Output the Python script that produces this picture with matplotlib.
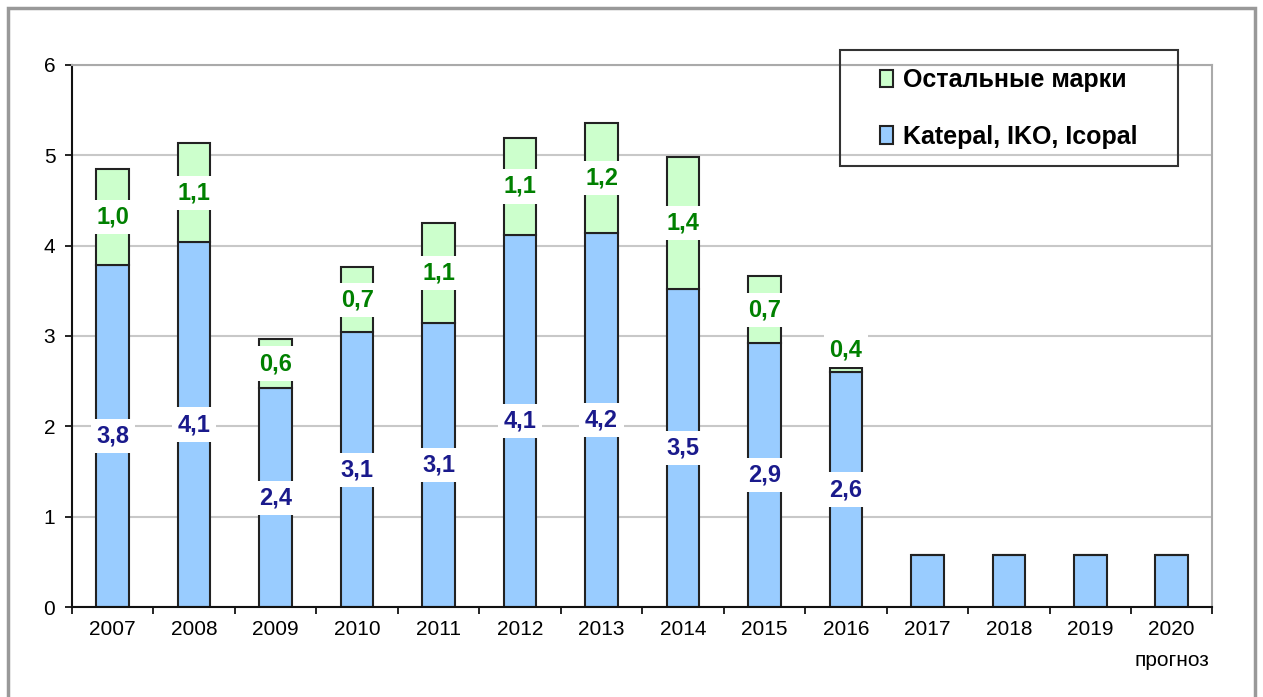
import matplotlib.pyplot as plt
from matplotlib.patches import Rectangle

plt.rcParams["font.family"] = ["Liberation Sans", "DejaVu Sans"]

years = ["2007", "2008", "2009", "2010", "2011", "2012", "2013",
         "2014", "2015", "2016", "2017", "2018", "2019", "2020\nпрогноз"]
# bar heights as drawn
katepal = [3.78, 4.04, 2.42, 3.04, 3.14, 4.12, 4.14,
           3.52, 2.92, 2.60, 0.58, 0.58, 0.58, 0.58]
others = [1.07, 1.09, 0.55, 0.72, 1.11, 1.07, 1.22,
          1.46, 0.74, 0.04, 0, 0, 0, 0]
# values written on the bars
katepal_lbl = [3.8, 4.1, 2.4, 3.1, 3.1, 4.1, 4.2, 3.5, 2.9, 2.6]
others_lbl = [1.0, 1.1, 0.6, 0.7, 1.1, 1.1, 1.2, 1.4, 0.7, 0.4]


def fmt(v):
    return f"{v:.1f}".replace(".", ",")


def main():
    fig = plt.figure(figsize=(12.63, 6.97), dpi=100)
    ax = fig.add_axes([0.057, 0.129, 0.903, 0.778])

    x = range(len(years))
    blue = ax.bar(x, katepal, width=0.4, color="#99ccff",
                  edgecolor="#222222", linewidth=1.5, zorder=2,
                  label="Katepal, IKO, Icopal")
    green = ax.bar(x, others, width=0.4, bottom=katepal, color="#ccffcc",
                   edgecolor="#222222", linewidth=1.5, zorder=2,
                   label="Остальные марки")

    box = dict(facecolor="white", edgecolor="none", pad=4)
    for i in range(len(katepal_lbl)):
        ax.text(i, katepal[i] / 2, fmt(katepal_lbl[i]), ha="center",
                va="center", fontsize=17, fontweight="bold",
                color="#1a1a8c", bbox=box, zorder=3)
        if others[i] > 0.3:
            y, va = katepal[i] + others[i] / 2, "center"
        else:
            y, va = katepal[i] + others[i] + 0.08, "bottom"
        ax.text(i, y, fmt(others_lbl[i]), ha="center", va=va,
                fontsize=17, fontweight="bold", color="#008000",
                bbox=box, zorder=3)

    ax.set_xlim(-0.5, len(years) - 0.5)
    ax.set_ylim(0, 6)
    ax.set_yticks(range(7))
    ax.set_xticks(list(x))
    ax.set_xticklabels(years, fontsize=15, linespacing=1.85)
    ax.set_xticks([i + 0.5 for i in range(-1, len(years))], minor=True)
    ax.tick_params(axis="x", which="major", length=0, pad=9)
    ax.tick_params(axis="x", which="minor", length=5, width=1.2,
                   direction="out")
    ax.tick_params(axis="y", length=5, width=1.2, labelsize=15, pad=7)
    ax.yaxis.grid(True, color="#c8c8c8", linewidth=1.5, zorder=0)
    ax.set_axisbelow(True)
    for s in ("left", "bottom"):
        ax.spines[s].set_color("#111111")
        ax.spines[s].set_linewidth(1.5)
    for s in ("top", "right"):
        ax.spines[s].set_color("#aaaaaa")
        ax.spines[s].set_linewidth(1.5)

    # legend frame drawn by hand to get the wide margins
    fig.patches.append(Rectangle((0.665, 0.762), 0.268, 0.166,
                                 transform=fig.transFigure, fill=False,
                                 edgecolor="#333333", linewidth=1.5,
                                 zorder=5))
    fig.legend(handles=[green, blue], loc="center left",
               bbox_to_anchor=(0.697, 0.844), frameon=False,
               prop=dict(size=18, weight="bold"), handlelength=0.5,
               handleheight=0.7, handletextpad=0.4, labelspacing=1.3,
               borderpad=0, borderaxespad=0)

    fig.patches.append(Rectangle((0.006, -0.1), 0.988, 1.088,
                                 transform=fig.transFigure, fill=False,
                                 edgecolor="#999999", linewidth=2.5))
    fig.savefig("out.png", dpi=100)


if __name__ == "__main__":
    main()
